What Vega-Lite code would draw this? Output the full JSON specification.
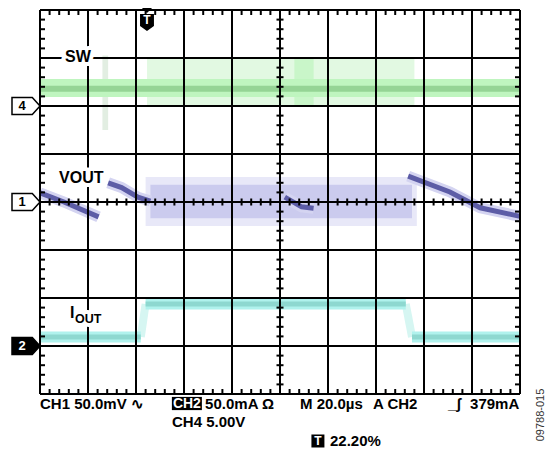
{
  "$schema": "https://vega.github.io/schema/vega-lite/v6.json",
  "width": 480,
  "height": 384,
  "autosize": {"type": "none"},
  "padding": {"left": 40, "top": 10, "right": 29, "bottom": 59},
  "background": "white",
  "config": {"view": {"stroke": null}},
  "datasets": {
    "sw_burst": [{"x": 2.23, "y": 2.0, "y2": 3.02}, {"x": 7.8, "y": 2.0, "y2": 3.02}],
    "sw_burst2": [{"x": 5.3, "y": 2.0, "y2": 3.02}, {"x": 5.7, "y": 2.0, "y2": 3.02}],
    "sw_spike": [{"x": 1.3, "y": 1.5, "y2": 3.05}, {"x": 1.42, "y": 1.5, "y2": 3.05}],
    "sw_band": [{"x": 0, "y": 2.19, "y2": 2.56}, {"x": 10, "y": 2.19, "y2": 2.56}],
    "sw_line": [{"x": 0, "y": 2.36}, {"x": 10, "y": 2.36}],
    "vout_outer": [{"x": 2.2, "y": -0.5, "y2": 0.52}, {"x": 7.85, "y": -0.5, "y2": 0.52}],
    "vout_inner": [{"x": 2.3, "y": -0.34, "y2": 0.36}, {"x": 7.75, "y": -0.34, "y2": 0.36}],
    "vout_line": [
      {"seg": "A", "x": 0, "y": 0.19}, {"seg": "A", "x": 0.5, "y": 0.0}, {"seg": "A", "x": 1.22, "y": -0.31},
      {"seg": "B", "x": 1.42, "y": 0.4}, {"seg": "B", "x": 1.7, "y": 0.3}, {"seg": "B", "x": 2.04, "y": 0.1}, {"seg": "B", "x": 2.3, "y": 0.02},
      {"seg": "C", "x": 5.1, "y": 0.1}, {"seg": "C", "x": 5.45, "y": -0.1}, {"seg": "C", "x": 5.7, "y": -0.13},
      {"seg": "D", "x": 7.67, "y": 0.54}, {"seg": "D", "x": 8.54, "y": 0.21}, {"seg": "D", "x": 9.17, "y": -0.12}, {"seg": "D", "x": 10, "y": -0.3}
    ],
    "iout_line": [
      {"seg": "L", "x": 0, "y": -2.81}, {"seg": "L", "x": 2.1, "y": -2.81},
      {"seg": "H", "x": 2.2, "y": -2.125}, {"seg": "H", "x": 7.62, "y": -2.125},
      {"seg": "R", "x": 7.75, "y": -2.81}, {"seg": "R", "x": 10, "y": -2.81}
    ],
    "iout_edge": [
      {"seg": "E1", "x": 2.1, "y": -2.81}, {"seg": "E1", "x": 2.2, "y": -2.125},
      {"seg": "E2", "x": 7.62, "y": -2.125}, {"seg": "E2", "x": 7.75, "y": -2.81}
    ],
    "grid_v": [{"x": 0}, {"x": 1}, {"x": 2}, {"x": 3}, {"x": 4}, {"x": 5}, {"x": 6}, {"x": 7}, {"x": 8}, {"x": 9}, {"x": 10}],
    "grid_h": [{"y": -4}, {"y": -3}, {"y": -2}, {"y": -1}, {"y": 0}, {"y": 1}, {"y": 2}, {"y": 3}, {"y": 4}],
    "ticks_v": [
      {"x":0.2,"y":4,"y2":3.896},{"x":0.2,"y":-4,"y2":-3.896},{"x":0.2,"y":0.073,"y2":-0.073},
      {"x":0.4,"y":4,"y2":3.896},{"x":0.4,"y":-4,"y2":-3.896},{"x":0.4,"y":0.073,"y2":-0.073},
      {"x":0.6,"y":4,"y2":3.896},{"x":0.6,"y":-4,"y2":-3.896},{"x":0.6,"y":0.073,"y2":-0.073},
      {"x":0.8,"y":4,"y2":3.896},{"x":0.8,"y":-4,"y2":-3.896},{"x":0.8,"y":0.073,"y2":-0.073},
      {"x":1.2,"y":4,"y2":3.896},{"x":1.2,"y":-4,"y2":-3.896},{"x":1.2,"y":0.073,"y2":-0.073},
      {"x":1.4,"y":4,"y2":3.896},{"x":1.4,"y":-4,"y2":-3.896},{"x":1.4,"y":0.073,"y2":-0.073},
      {"x":1.6,"y":4,"y2":3.896},{"x":1.6,"y":-4,"y2":-3.896},{"x":1.6,"y":0.073,"y2":-0.073},
      {"x":1.8,"y":4,"y2":3.896},{"x":1.8,"y":-4,"y2":-3.896},{"x":1.8,"y":0.073,"y2":-0.073},
      {"x":2.2,"y":4,"y2":3.896},{"x":2.2,"y":-4,"y2":-3.896},{"x":2.2,"y":0.073,"y2":-0.073},
      {"x":2.4,"y":4,"y2":3.896},{"x":2.4,"y":-4,"y2":-3.896},{"x":2.4,"y":0.073,"y2":-0.073},
      {"x":2.6,"y":4,"y2":3.896},{"x":2.6,"y":-4,"y2":-3.896},{"x":2.6,"y":0.073,"y2":-0.073},
      {"x":2.8,"y":4,"y2":3.896},{"x":2.8,"y":-4,"y2":-3.896},{"x":2.8,"y":0.073,"y2":-0.073},
      {"x":3.2,"y":4,"y2":3.896},{"x":3.2,"y":-4,"y2":-3.896},{"x":3.2,"y":0.073,"y2":-0.073},
      {"x":3.4,"y":4,"y2":3.896},{"x":3.4,"y":-4,"y2":-3.896},{"x":3.4,"y":0.073,"y2":-0.073},
      {"x":3.6,"y":4,"y2":3.896},{"x":3.6,"y":-4,"y2":-3.896},{"x":3.6,"y":0.073,"y2":-0.073},
      {"x":3.8,"y":4,"y2":3.896},{"x":3.8,"y":-4,"y2":-3.896},{"x":3.8,"y":0.073,"y2":-0.073},
      {"x":4.2,"y":4,"y2":3.896},{"x":4.2,"y":-4,"y2":-3.896},{"x":4.2,"y":0.073,"y2":-0.073},
      {"x":4.4,"y":4,"y2":3.896},{"x":4.4,"y":-4,"y2":-3.896},{"x":4.4,"y":0.073,"y2":-0.073},
      {"x":4.6,"y":4,"y2":3.896},{"x":4.6,"y":-4,"y2":-3.896},{"x":4.6,"y":0.073,"y2":-0.073},
      {"x":4.8,"y":4,"y2":3.896},{"x":4.8,"y":-4,"y2":-3.896},{"x":4.8,"y":0.073,"y2":-0.073},
      {"x":5.2,"y":4,"y2":3.896},{"x":5.2,"y":-4,"y2":-3.896},{"x":5.2,"y":0.073,"y2":-0.073},
      {"x":5.4,"y":4,"y2":3.896},{"x":5.4,"y":-4,"y2":-3.896},{"x":5.4,"y":0.073,"y2":-0.073},
      {"x":5.6,"y":4,"y2":3.896},{"x":5.6,"y":-4,"y2":-3.896},{"x":5.6,"y":0.073,"y2":-0.073},
      {"x":5.8,"y":4,"y2":3.896},{"x":5.8,"y":-4,"y2":-3.896},{"x":5.8,"y":0.073,"y2":-0.073},
      {"x":6.2,"y":4,"y2":3.896},{"x":6.2,"y":-4,"y2":-3.896},{"x":6.2,"y":0.073,"y2":-0.073},
      {"x":6.4,"y":4,"y2":3.896},{"x":6.4,"y":-4,"y2":-3.896},{"x":6.4,"y":0.073,"y2":-0.073},
      {"x":6.6,"y":4,"y2":3.896},{"x":6.6,"y":-4,"y2":-3.896},{"x":6.6,"y":0.073,"y2":-0.073},
      {"x":6.8,"y":4,"y2":3.896},{"x":6.8,"y":-4,"y2":-3.896},{"x":6.8,"y":0.073,"y2":-0.073},
      {"x":7.2,"y":4,"y2":3.896},{"x":7.2,"y":-4,"y2":-3.896},{"x":7.2,"y":0.073,"y2":-0.073},
      {"x":7.4,"y":4,"y2":3.896},{"x":7.4,"y":-4,"y2":-3.896},{"x":7.4,"y":0.073,"y2":-0.073},
      {"x":7.6,"y":4,"y2":3.896},{"x":7.6,"y":-4,"y2":-3.896},{"x":7.6,"y":0.073,"y2":-0.073},
      {"x":7.8,"y":4,"y2":3.896},{"x":7.8,"y":-4,"y2":-3.896},{"x":7.8,"y":0.073,"y2":-0.073},
      {"x":8.2,"y":4,"y2":3.896},{"x":8.2,"y":-4,"y2":-3.896},{"x":8.2,"y":0.073,"y2":-0.073},
      {"x":8.4,"y":4,"y2":3.896},{"x":8.4,"y":-4,"y2":-3.896},{"x":8.4,"y":0.073,"y2":-0.073},
      {"x":8.6,"y":4,"y2":3.896},{"x":8.6,"y":-4,"y2":-3.896},{"x":8.6,"y":0.073,"y2":-0.073},
      {"x":8.8,"y":4,"y2":3.896},{"x":8.8,"y":-4,"y2":-3.896},{"x":8.8,"y":0.073,"y2":-0.073},
      {"x":9.2,"y":4,"y2":3.896},{"x":9.2,"y":-4,"y2":-3.896},{"x":9.2,"y":0.073,"y2":-0.073},
      {"x":9.4,"y":4,"y2":3.896},{"x":9.4,"y":-4,"y2":-3.896},{"x":9.4,"y":0.073,"y2":-0.073},
      {"x":9.6,"y":4,"y2":3.896},{"x":9.6,"y":-4,"y2":-3.896},{"x":9.6,"y":0.073,"y2":-0.073},
      {"x":9.8,"y":4,"y2":3.896},{"x":9.8,"y":-4,"y2":-3.896},{"x":9.8,"y":0.073,"y2":-0.073}
    ],
    "ticks_h": [
      {"y":-3.8,"x":0,"x2":0.104},{"y":-3.8,"x":10,"x2":9.896},{"y":-3.8,"x":4.927,"x2":5.073},
      {"y":-3.6,"x":0,"x2":0.104},{"y":-3.6,"x":10,"x2":9.896},{"y":-3.6,"x":4.927,"x2":5.073},
      {"y":-3.4,"x":0,"x2":0.104},{"y":-3.4,"x":10,"x2":9.896},{"y":-3.4,"x":4.927,"x2":5.073},
      {"y":-3.2,"x":0,"x2":0.104},{"y":-3.2,"x":10,"x2":9.896},{"y":-3.2,"x":4.927,"x2":5.073},
      {"y":-2.8,"x":0,"x2":0.104},{"y":-2.8,"x":10,"x2":9.896},{"y":-2.8,"x":4.927,"x2":5.073},
      {"y":-2.6,"x":0,"x2":0.104},{"y":-2.6,"x":10,"x2":9.896},{"y":-2.6,"x":4.927,"x2":5.073},
      {"y":-2.4,"x":0,"x2":0.104},{"y":-2.4,"x":10,"x2":9.896},{"y":-2.4,"x":4.927,"x2":5.073},
      {"y":-2.2,"x":0,"x2":0.104},{"y":-2.2,"x":10,"x2":9.896},{"y":-2.2,"x":4.927,"x2":5.073},
      {"y":-1.8,"x":0,"x2":0.104},{"y":-1.8,"x":10,"x2":9.896},{"y":-1.8,"x":4.927,"x2":5.073},
      {"y":-1.6,"x":0,"x2":0.104},{"y":-1.6,"x":10,"x2":9.896},{"y":-1.6,"x":4.927,"x2":5.073},
      {"y":-1.4,"x":0,"x2":0.104},{"y":-1.4,"x":10,"x2":9.896},{"y":-1.4,"x":4.927,"x2":5.073},
      {"y":-1.2,"x":0,"x2":0.104},{"y":-1.2,"x":10,"x2":9.896},{"y":-1.2,"x":4.927,"x2":5.073},
      {"y":-0.8,"x":0,"x2":0.104},{"y":-0.8,"x":10,"x2":9.896},{"y":-0.8,"x":4.927,"x2":5.073},
      {"y":-0.6,"x":0,"x2":0.104},{"y":-0.6,"x":10,"x2":9.896},{"y":-0.6,"x":4.927,"x2":5.073},
      {"y":-0.4,"x":0,"x2":0.104},{"y":-0.4,"x":10,"x2":9.896},{"y":-0.4,"x":4.927,"x2":5.073},
      {"y":-0.2,"x":0,"x2":0.104},{"y":-0.2,"x":10,"x2":9.896},{"y":-0.2,"x":4.927,"x2":5.073},
      {"y":0.2,"x":0,"x2":0.104},{"y":0.2,"x":10,"x2":9.896},{"y":0.2,"x":4.927,"x2":5.073},
      {"y":0.4,"x":0,"x2":0.104},{"y":0.4,"x":10,"x2":9.896},{"y":0.4,"x":4.927,"x2":5.073},
      {"y":0.6,"x":0,"x2":0.104},{"y":0.6,"x":10,"x2":9.896},{"y":0.6,"x":4.927,"x2":5.073},
      {"y":0.8,"x":0,"x2":0.104},{"y":0.8,"x":10,"x2":9.896},{"y":0.8,"x":4.927,"x2":5.073},
      {"y":1.2,"x":0,"x2":0.104},{"y":1.2,"x":10,"x2":9.896},{"y":1.2,"x":4.927,"x2":5.073},
      {"y":1.4,"x":0,"x2":0.104},{"y":1.4,"x":10,"x2":9.896},{"y":1.4,"x":4.927,"x2":5.073},
      {"y":1.6,"x":0,"x2":0.104},{"y":1.6,"x":10,"x2":9.896},{"y":1.6,"x":4.927,"x2":5.073},
      {"y":1.8,"x":0,"x2":0.104},{"y":1.8,"x":10,"x2":9.896},{"y":1.8,"x":4.927,"x2":5.073},
      {"y":2.2,"x":0,"x2":0.104},{"y":2.2,"x":10,"x2":9.896},{"y":2.2,"x":4.927,"x2":5.073},
      {"y":2.4,"x":0,"x2":0.104},{"y":2.4,"x":10,"x2":9.896},{"y":2.4,"x":4.927,"x2":5.073},
      {"y":2.6,"x":0,"x2":0.104},{"y":2.6,"x":10,"x2":9.896},{"y":2.6,"x":4.927,"x2":5.073},
      {"y":2.8,"x":0,"x2":0.104},{"y":2.8,"x":10,"x2":9.896},{"y":2.8,"x":4.927,"x2":5.073},
      {"y":3.2,"x":0,"x2":0.104},{"y":3.2,"x":10,"x2":9.896},{"y":3.2,"x":4.927,"x2":5.073},
      {"y":3.4,"x":0,"x2":0.104},{"y":3.4,"x":10,"x2":9.896},{"y":3.4,"x":4.927,"x2":5.073},
      {"y":3.6,"x":0,"x2":0.104},{"y":3.6,"x":10,"x2":9.896},{"y":3.6,"x":4.927,"x2":5.073},
      {"y":3.8,"x":0,"x2":0.104},{"y":3.8,"x":10,"x2":9.896},{"y":3.8,"x":4.927,"x2":5.073}
    ],
    "labels": [
      {"x": 0.521, "y": 3.021, "text": "SW"},
      {"x": 0.396, "y": 0.49, "text": "VOUT"},
      {"x": 0.625, "y": -2.3125, "text": "I"}
    ],
    "label_sub": [{"x": 0.729, "y": -2.43, "text": "OUT"}],
    "markers_open": [
      {"x": -0.2917, "y": 2, "text": "4"},
      {"x": -0.2917, "y": 0, "text": "1"}
    ],
    "markers_filled": [{"x": -0.2917, "y": -3, "text": "2"}],
    "trigger": [{"x": 2.229, "y": 3.79, "text": "T"}],
    "footer": [
      {"x": 0, "y": -4.198, "text": "CH1 50.0mV ∿"},
      {"x": 3.44, "y": -4.198, "text": "50.0mA Ω"},
      {"x": 5.417, "y": -4.198, "text": "M 20.0µs"},
      {"x": 6.9375, "y": -4.198, "text": "A CH2"},
      {"x": 8.5, "y": -4.198, "text": "_ʃ"},
      {"x": 8.96, "y": -4.198, "text": "379mA"},
      {"x": 2.75, "y": -4.573, "text": "CH4 5.00V"},
      {"x": 6.042, "y": -4.979, "text": "22.20%"}
    ],
    "footer_wide": [{"x": 3.06, "y": -4.198, "text": "CH2"}],
    "footer_small": [{"x": 5.79, "y": -4.979, "text": "T"}],
    "side": [{"x": 10.4375, "y": -4.4375, "text": "09788-015"}]
  },
  "layer": [
    {
      "data": {"name": "sw_burst"},
      "mark": {"type": "area", "color": "#e2f9e2"},
      "encoding": {
        "x": {"field": "x", "type": "quantitative", "scale": {"domain": [0, 10], "nice": false, "zero": false}, "axis": null},
        "y": {"field": "y", "type": "quantitative", "scale": {"domain": [-4, 4], "nice": false, "zero": false}, "axis": null},
        "y2": {"field": "y2"}
      }
    },
    {
      "data": {"name": "sw_burst2"},
      "mark": {"type": "area", "color": "#c9f6c9"},
      "encoding": {
        "x": {"field": "x", "type": "quantitative", "scale": {"domain": [0, 10], "nice": false, "zero": false}, "axis": null},
        "y": {"field": "y", "type": "quantitative", "scale": {"domain": [-4, 4], "nice": false, "zero": false}, "axis": null},
        "y2": {"field": "y2"}
      }
    },
    {
      "data": {"name": "sw_spike"},
      "mark": {"type": "area", "color": "#e2eee2"},
      "encoding": {
        "x": {"field": "x", "type": "quantitative", "scale": {"domain": [0, 10], "nice": false, "zero": false}, "axis": null},
        "y": {"field": "y", "type": "quantitative", "scale": {"domain": [-4, 4], "nice": false, "zero": false}, "axis": null},
        "y2": {"field": "y2"}
      }
    },
    {
      "data": {"name": "sw_band"},
      "mark": {"type": "area", "color": "#bff5bf"},
      "encoding": {
        "x": {"field": "x", "type": "quantitative", "scale": {"domain": [0, 10], "nice": false, "zero": false}, "axis": null},
        "y": {"field": "y", "type": "quantitative", "scale": {"domain": [-4, 4], "nice": false, "zero": false}, "axis": null},
        "y2": {"field": "y2"}
      }
    },
    {
      "data": {"name": "sw_line"},
      "mark": {"type": "line", "color": "#95d495", "strokeWidth": 6, "strokeCap": "butt"},
      "encoding": {
        "x": {"field": "x", "type": "quantitative", "scale": {"domain": [0, 10], "nice": false, "zero": false}, "axis": null},
        "y": {"field": "y", "type": "quantitative", "scale": {"domain": [-4, 4], "nice": false, "zero": false}, "axis": null}
      }
    },
    {
      "data": {"name": "vout_outer"},
      "mark": {"type": "area", "color": "#e8e8f8"},
      "encoding": {
        "x": {"field": "x", "type": "quantitative", "scale": {"domain": [0, 10], "nice": false, "zero": false}, "axis": null},
        "y": {"field": "y", "type": "quantitative", "scale": {"domain": [-4, 4], "nice": false, "zero": false}, "axis": null},
        "y2": {"field": "y2"}
      }
    },
    {
      "data": {"name": "vout_inner"},
      "mark": {"type": "area", "color": "#cbcbee"},
      "encoding": {
        "x": {"field": "x", "type": "quantitative", "scale": {"domain": [0, 10], "nice": false, "zero": false}, "axis": null},
        "y": {"field": "y", "type": "quantitative", "scale": {"domain": [-4, 4], "nice": false, "zero": false}, "axis": null},
        "y2": {"field": "y2"}
      }
    },
    {
      "data": {"name": "vout_line"},
      "mark": {"type": "line", "color": "#d4d4f1", "strokeWidth": 11, "strokeCap": "butt"},
      "encoding": {
        "x": {"field": "x", "type": "quantitative", "scale": {"domain": [0, 10], "nice": false, "zero": false}, "axis": null},
        "y": {"field": "y", "type": "quantitative", "scale": {"domain": [-4, 4], "nice": false, "zero": false}, "axis": null},
        "detail": {"field": "seg"}
      }
    },
    {
      "data": {"name": "vout_line"},
      "mark": {"type": "line", "color": "#5c5ca6", "strokeWidth": 5, "strokeCap": "butt"},
      "encoding": {
        "x": {"field": "x", "type": "quantitative", "scale": {"domain": [0, 10], "nice": false, "zero": false}, "axis": null},
        "y": {"field": "y", "type": "quantitative", "scale": {"domain": [-4, 4], "nice": false, "zero": false}, "axis": null},
        "detail": {"field": "seg"}
      }
    },
    {
      "data": {"name": "iout_edge"},
      "mark": {"type": "line", "color": "#d6f6f2", "strokeWidth": 8, "strokeCap": "butt"},
      "encoding": {
        "x": {"field": "x", "type": "quantitative", "scale": {"domain": [0, 10], "nice": false, "zero": false}, "axis": null},
        "y": {"field": "y", "type": "quantitative", "scale": {"domain": [-4, 4], "nice": false, "zero": false}, "axis": null},
        "detail": {"field": "seg"}
      }
    },
    {
      "data": {"name": "iout_line"},
      "mark": {"type": "line", "color": "#b0f2ed", "strokeWidth": 11, "strokeCap": "butt"},
      "encoding": {
        "x": {"field": "x", "type": "quantitative", "scale": {"domain": [0, 10], "nice": false, "zero": false}, "axis": null},
        "y": {"field": "y", "type": "quantitative", "scale": {"domain": [-4, 4], "nice": false, "zero": false}, "axis": null},
        "detail": {"field": "seg"}
      }
    },
    {
      "data": {"name": "iout_line"},
      "mark": {"type": "line", "color": "#8ed8d0", "strokeWidth": 5, "strokeCap": "butt"},
      "encoding": {
        "x": {"field": "x", "type": "quantitative", "scale": {"domain": [0, 10], "nice": false, "zero": false}, "axis": null},
        "y": {"field": "y", "type": "quantitative", "scale": {"domain": [-4, 4], "nice": false, "zero": false}, "axis": null},
        "detail": {"field": "seg"}
      }
    },
    {
      "data": {"name": "grid_v"},
      "mark": {"type": "rule", "color": "black", "strokeWidth": 2},
      "encoding": {
        "x": {"field": "x", "type": "quantitative", "scale": {"domain": [0, 10], "nice": false, "zero": false}, "axis": null}
      }
    },
    {
      "data": {"name": "grid_h"},
      "mark": {"type": "rule", "color": "black", "strokeWidth": 2},
      "encoding": {
        "y": {"field": "y", "type": "quantitative", "scale": {"domain": [-4, 4], "nice": false, "zero": false}, "axis": null}
      }
    },
    {
      "data": {"name": "ticks_v"},
      "mark": {"type": "rule", "color": "black", "strokeWidth": 2},
      "encoding": {
        "x": {"field": "x", "type": "quantitative", "scale": {"domain": [0, 10], "nice": false, "zero": false}, "axis": null},
        "y": {"field": "y", "type": "quantitative", "scale": {"domain": [-4, 4], "nice": false, "zero": false}, "axis": null},
        "y2": {"field": "y2"}
      }
    },
    {
      "data": {"name": "ticks_h"},
      "mark": {"type": "rule", "color": "black", "strokeWidth": 2},
      "encoding": {
        "y": {"field": "y", "type": "quantitative", "scale": {"domain": [-4, 4], "nice": false, "zero": false}, "axis": null},
        "x": {"field": "x", "type": "quantitative", "scale": {"domain": [0, 10], "nice": false, "zero": false}, "axis": null},
        "x2": {"field": "x2"}
      }
    },
    {
      "data": {"name": "labels"},
      "mark": {"type": "text", "align": "left", "baseline": "middle", "font": "Liberation Sans", "fontWeight": "bold", "fontSize": 16, "fill": "white", "stroke": "white", "strokeWidth": 8, "strokeJoin": "round"},
      "encoding": {
        "x": {"field": "x", "type": "quantitative", "scale": {"domain": [0, 10], "nice": false, "zero": false}, "axis": null},
        "y": {"field": "y", "type": "quantitative", "scale": {"domain": [-4, 4], "nice": false, "zero": false}, "axis": null},
        "text": {"field": "text"}
      }
    },
    {
      "data": {"name": "label_sub"},
      "mark": {"type": "text", "align": "left", "baseline": "middle", "font": "Liberation Sans", "fontWeight": "bold", "fontSize": 12.5, "fill": "white", "stroke": "white", "strokeWidth": 8, "strokeJoin": "round"},
      "encoding": {
        "x": {"field": "x", "type": "quantitative", "scale": {"domain": [0, 10], "nice": false, "zero": false}, "axis": null},
        "y": {"field": "y", "type": "quantitative", "scale": {"domain": [-4, 4], "nice": false, "zero": false}, "axis": null},
        "text": {"field": "text"}
      }
    },
    {
      "data": {"name": "labels"},
      "mark": {"type": "text", "align": "left", "baseline": "middle", "font": "Liberation Sans", "fontWeight": "bold", "fontSize": 16, "color": "black"},
      "encoding": {
        "x": {"field": "x", "type": "quantitative", "scale": {"domain": [0, 10], "nice": false, "zero": false}, "axis": null},
        "y": {"field": "y", "type": "quantitative", "scale": {"domain": [-4, 4], "nice": false, "zero": false}, "axis": null},
        "text": {"field": "text"}
      }
    },
    {
      "data": {"name": "label_sub"},
      "mark": {"type": "text", "align": "left", "baseline": "middle", "font": "Liberation Sans", "fontWeight": "bold", "fontSize": 12.5, "color": "black"},
      "encoding": {
        "x": {"field": "x", "type": "quantitative", "scale": {"domain": [0, 10], "nice": false, "zero": false}, "axis": null},
        "y": {"field": "y", "type": "quantitative", "scale": {"domain": [-4, 4], "nice": false, "zero": false}, "axis": null},
        "text": {"field": "text"}
      }
    },
    {
      "data": {"name": "markers_open"},
      "mark": {"type": "point", "shape": "M-1,-0.6L0.45,-0.6L1,0L0.45,0.6L-1,0.6Z", "size": 784, "filled": true, "fill": "white", "stroke": "black", "strokeWidth": 1.5, "opacity": 1},
      "encoding": {
        "x": {"field": "x", "type": "quantitative", "scale": {"domain": [0, 10], "nice": false, "zero": false}, "axis": null},
        "y": {"field": "y", "type": "quantitative", "scale": {"domain": [-4, 4], "nice": false, "zero": false}, "axis": null}
      }
    },
    {
      "data": {"name": "markers_filled"},
      "mark": {"type": "point", "shape": "M-1,-0.6L0.45,-0.6L1,0L0.45,0.6L-1,0.6Z", "size": 784, "filled": true, "fill": "black", "stroke": "black", "strokeWidth": 1.5, "opacity": 1},
      "encoding": {
        "x": {"field": "x", "type": "quantitative", "scale": {"domain": [0, 10], "nice": false, "zero": false}, "axis": null},
        "y": {"field": "y", "type": "quantitative", "scale": {"domain": [-4, 4], "nice": false, "zero": false}, "axis": null}
      }
    },
    {
      "data": {"name": "markers_open"},
      "mark": {"type": "text", "align": "center", "baseline": "middle", "dx": -4, "font": "Liberation Sans", "fontWeight": "bold", "fontSize": 13, "color": "black"},
      "encoding": {
        "x": {"field": "x", "type": "quantitative", "scale": {"domain": [0, 10], "nice": false, "zero": false}, "axis": null},
        "y": {"field": "y", "type": "quantitative", "scale": {"domain": [-4, 4], "nice": false, "zero": false}, "axis": null},
        "text": {"field": "text"}
      }
    },
    {
      "data": {"name": "markers_filled"},
      "mark": {"type": "text", "align": "center", "baseline": "middle", "dx": -4, "font": "Liberation Sans", "fontWeight": "bold", "fontSize": 13, "color": "white"},
      "encoding": {
        "x": {"field": "x", "type": "quantitative", "scale": {"domain": [0, 10], "nice": false, "zero": false}, "axis": null},
        "y": {"field": "y", "type": "quantitative", "scale": {"domain": [-4, 4], "nice": false, "zero": false}, "axis": null},
        "text": {"field": "text"}
      }
    },
    {
      "data": {"name": "trigger"},
      "mark": {"type": "point", "shape": "M-0.42,-1L0.42,-1L0,-0.58ZM-0.58,-0.5L0.58,-0.5L0.58,0.5L0,0.92L-0.58,0.5Z", "size": 576, "filled": true, "color": "black", "opacity": 1},
      "encoding": {
        "x": {"field": "x", "type": "quantitative", "scale": {"domain": [0, 10], "nice": false, "zero": false}, "axis": null},
        "y": {"field": "y", "type": "quantitative", "scale": {"domain": [-4, 4], "nice": false, "zero": false}, "axis": null}
      }
    },
    {
      "data": {"name": "trigger"},
      "mark": {"type": "text", "align": "center", "baseline": "middle", "font": "Liberation Sans", "fontWeight": "bold", "fontSize": 12, "color": "white"},
      "encoding": {
        "x": {"field": "x", "type": "quantitative", "scale": {"domain": [0, 10], "nice": false, "zero": false}, "axis": null},
        "y": {"field": "y", "type": "quantitative", "scale": {"domain": [-4, 4], "nice": false, "zero": false}, "axis": null},
        "text": {"field": "text"}
      }
    },
    {
      "data": {"name": "footer_wide"},
      "mark": {"type": "point", "shape": "M-1,-0.44L1,-0.44L1,0.44L-1,0.44Z", "size": 900, "filled": true, "color": "black", "opacity": 1},
      "encoding": {
        "x": {"field": "x", "type": "quantitative", "scale": {"domain": [0, 10], "nice": false, "zero": false}, "axis": null},
        "y": {"field": "y", "type": "quantitative", "scale": {"domain": [-4, 4], "nice": false, "zero": false}, "axis": null}
      }
    },
    {
      "data": {"name": "footer_small"},
      "mark": {"type": "point", "shape": "square", "size": 169, "filled": true, "color": "black", "opacity": 1},
      "encoding": {
        "x": {"field": "x", "type": "quantitative", "scale": {"domain": [0, 10], "nice": false, "zero": false}, "axis": null},
        "y": {"field": "y", "type": "quantitative", "scale": {"domain": [-4, 4], "nice": false, "zero": false}, "axis": null}
      }
    },
    {
      "data": {"name": "footer_wide"},
      "mark": {"type": "text", "align": "center", "baseline": "middle", "font": "Liberation Sans", "fontWeight": "bold", "fontSize": 14, "color": "white"},
      "encoding": {
        "x": {"field": "x", "type": "quantitative", "scale": {"domain": [0, 10], "nice": false, "zero": false}, "axis": null},
        "y": {"field": "y", "type": "quantitative", "scale": {"domain": [-4, 4], "nice": false, "zero": false}, "axis": null},
        "text": {"field": "text"}
      }
    },
    {
      "data": {"name": "footer_small"},
      "mark": {"type": "text", "align": "center", "baseline": "middle", "font": "Liberation Sans", "fontWeight": "bold", "fontSize": 12, "color": "white"},
      "encoding": {
        "x": {"field": "x", "type": "quantitative", "scale": {"domain": [0, 10], "nice": false, "zero": false}, "axis": null},
        "y": {"field": "y", "type": "quantitative", "scale": {"domain": [-4, 4], "nice": false, "zero": false}, "axis": null},
        "text": {"field": "text"}
      }
    },
    {
      "data": {"name": "footer"},
      "mark": {"type": "text", "align": "left", "baseline": "middle", "font": "Liberation Sans", "fontWeight": "bold", "fontSize": 15, "color": "black"},
      "encoding": {
        "x": {"field": "x", "type": "quantitative", "scale": {"domain": [0, 10], "nice": false, "zero": false}, "axis": null},
        "y": {"field": "y", "type": "quantitative", "scale": {"domain": [-4, 4], "nice": false, "zero": false}, "axis": null},
        "text": {"field": "text"}
      }
    },
    {
      "data": {"name": "side"},
      "mark": {"type": "text", "align": "center", "baseline": "middle", "angle": 270, "font": "Liberation Sans", "fontSize": 11, "color": "#333333"},
      "encoding": {
        "x": {"field": "x", "type": "quantitative", "scale": {"domain": [0, 10], "nice": false, "zero": false}, "axis": null},
        "y": {"field": "y", "type": "quantitative", "scale": {"domain": [-4, 4], "nice": false, "zero": false}, "axis": null},
        "text": {"field": "text"}
      }
    }
  ]
}
